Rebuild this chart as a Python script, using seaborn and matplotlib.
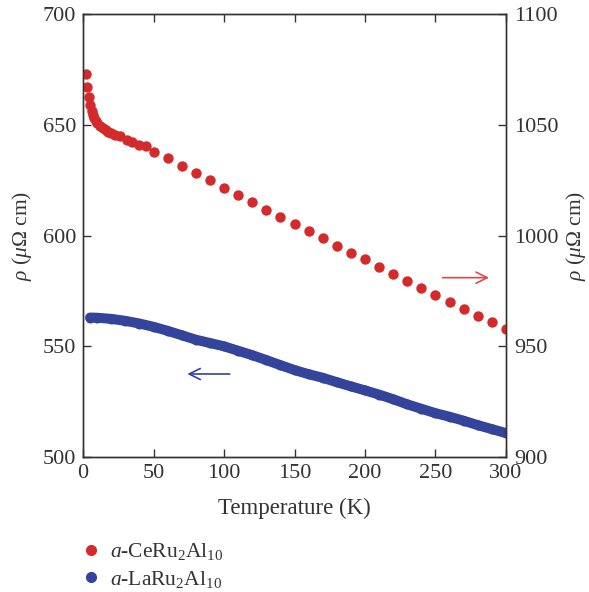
import numpy as np
import pandas as pd
import matplotlib
matplotlib.use("Agg")
import matplotlib.pyplot as plt
from matplotlib.lines import Line2D
import seaborn as sns

# CeRu2Al10 resistivity (right axis)
ce_temp = [2, 3, 4, 5, 6, 7, 8, 9, 10, 12, 14, 16, 18, 20, 23, 26, 31, 35, 40, 45, 50,
           60, 70, 80, 90, 100, 110, 120, 130, 140, 150, 160, 170, 180, 190, 200,
           210, 220, 230, 240, 250, 260, 270, 280, 290, 300]
ce_rho = [1073.2, 1067.0, 1062.5, 1059.0, 1056.5, 1054.5, 1053.0, 1051.8, 1050.8, 1049.5,
          1048.5, 1047.7, 1047.0, 1046.5, 1045.6, 1044.8, 1043.3, 1042.1, 1041.1, 1040.5,
          1037.8, 1034.9, 1031.5, 1028.4, 1024.9, 1021.4, 1018.4, 1015.0, 1011.6, 1008.4,
          1005.1, 1002.1, 998.9, 995.5, 992.3, 989.3, 986.0, 982.7, 979.6, 976.2,
          973.1, 970.1, 966.9, 963.8, 960.8, 957.7]

# LaRu2Al10 resistivity (left axis)
la_temp = [5, 10, 20, 30, 40, 50, 60, 70, 80, 90, 100, 110, 120, 130, 140, 150, 160,
           170, 180, 190, 200, 210, 220, 230, 240, 250, 260, 270, 280, 290, 300]
la_rho = [563.0, 562.9, 562.4, 561.5, 560.3, 558.8, 557.0, 555.0, 553.0, 551.5, 550.0,
          548.0, 546.0, 543.8, 541.5, 539.3, 537.4, 535.8, 533.8, 531.9, 530.1, 528.2,
          526.1, 523.8, 521.8, 519.8, 518.2, 516.4, 514.4, 512.6, 510.8]

red = "#d42a2c"
blue = "#33449a"
grey = "#333333"

sns.set_style("ticks")
plt.rcParams["font.family"] = ["Liberation Serif", "DejaVu Serif"]
plt.rcParams["mathtext.fontset"] = "custom"
plt.rcParams["mathtext.rm"] = "Liberation Serif"
plt.rcParams["mathtext.it"] = "Liberation Serif:italic"
plt.rcParams["axes.edgecolor"] = grey
plt.rcParams["text.color"] = grey
plt.rcParams["axes.labelcolor"] = grey
plt.rcParams["xtick.color"] = grey
plt.rcParams["ytick.color"] = grey

ce = pd.DataFrame({"T": ce_temp, "rho": ce_rho})
la = pd.DataFrame({"T": la_temp, "rho": la_rho})

fig = plt.figure(figsize=(5.89, 5.92), dpi=100)
ax = fig.add_axes([0.141, 0.228, 0.718, 0.748])
ax2 = ax.twinx()

sns.lineplot(data=la, x="T", y="rho", ax=ax, color=blue, lw=7.2,
             solid_capstyle="round")
sns.scatterplot(data=la, x="T", y="rho", ax=ax, color=blue, s=52, linewidth=0)
sns.scatterplot(data=ce, x="T", y="rho", ax=ax2, color=red, s=56, linewidth=0)

ax.set_xlim(0, 300)
ax.set_ylim(500, 700)
ax2.set_ylim(900, 1100)
ax.set_xticks([0, 50, 100, 150, 200, 250, 300])
ax.set_yticks([500, 550, 600, 650, 700])
ax2.set_yticks([900, 950, 1000, 1050, 1100])

ylab = r"$\rho$ ($\mu\Omega$ cm)"
ax.set_xlabel("Temperature (K)", fontsize=16.5, labelpad=11)
ax.set_ylabel(ylab, fontsize=15.5, labelpad=6)
ax2.set_ylabel(ylab, fontsize=15.5, labelpad=4)

for a in (ax, ax2):
    a.tick_params(direction="in", length=6, width=1, labelsize=16, pad=5)
    for s in a.spines.values():
        s.set_visible(True)
        s.set_linewidth(1)
ax.tick_params(top=True, right=False)
ax2.tick_params(axis="y", pad=6)

ax.annotate("", xy=(72, 537.5), xytext=(106, 537.5),
            arrowprops=dict(arrowstyle="->", color=blue, lw=1.2, mutation_scale=20))
ax2.annotate("", xy=(290, 981), xytext=(253, 981),
             arrowprops=dict(arrowstyle="->", color="#dd4a4a", lw=1.2, mutation_scale=20))

handles = [Line2D([], [], ls="", marker="o", ms=7, color=red),
           Line2D([], [], ls="", marker="o", ms=7, color=blue)]
labels = [r"$a$-CeRu$_2$Al$_{10}$", r"$a$-LaRu$_2$Al$_{10}$"]
fig.legend(handles, labels, loc="upper left", bbox_to_anchor=(0.118, 0.1),
           frameon=False, fontsize=15.5, handletextpad=0.3, labelspacing=0.3,
           handlelength=1.2, borderaxespad=0)

fig.savefig("out.png", dpi=100)
